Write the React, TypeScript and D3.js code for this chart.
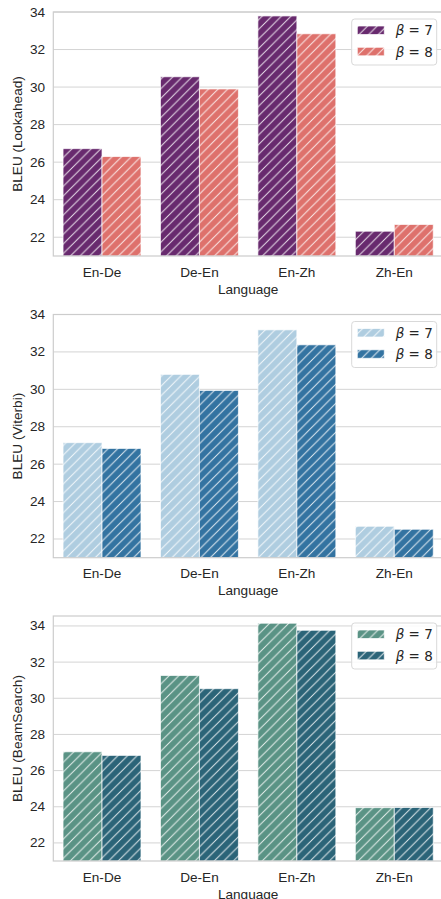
import React from "react";
import * as d3 from "d3";

const categories = ["En-De", "De-En", "En-Zh", "Zh-En"];
const seriesNames = ["7", "8"];

const lookahead7 = [26.72, 30.55, 33.79, 22.32];
const lookahead8 = [26.3, 29.9, 32.84, 22.68];
const viterbi7 = [27.15, 30.8, 33.18, 22.68];
const viterbi8 = [26.84, 29.94, 32.38, 22.52];
const beam7 = [27.04, 31.26, 34.15, 23.95];
const beam8 = [26.84, 30.53, 33.76, 23.96];

const yTicks = [22, 24, 26, 28, 30, 32, 34];

const panels = [
  { id: "p1", label: "BLEU (Lookahead)", top: 12, bottom: 256, yMin: 21, yMax: 34, series: [lookahead7, lookahead8], colors: ["#682a6e", "#de716c"] },
  { id: "p2", label: "BLEU (Viterbi)", top: 314.5, bottom: 557.7, yMin: 21, yMax: 34, series: [viterbi7, viterbi8], colors: ["#afcde0", "#3373a1"] },
  { id: "p3", label: "BLEU (BeamSearch)", top: 616, bottom: 861, yMin: 21, yMax: 34.55, series: [beam7, beam8], colors: ["#5a9385", "#2b6478"] },
];

const LEFT = 53.3;
const RIGHT = 443;
const FONT = "'Liberation Sans', Arial, sans-serif";
const FS = 13.6;
const TEXT = "#262626";
const GRID = "#d4d4d4";
const H = 9.6;

function Panel({ p }: { p: (typeof panels)[number] }) {
  const x = d3.scaleBand<string>().domain(categories).range([LEFT, RIGHT]).paddingInner(0.2).paddingOuter(0.1);
  const xi = d3.scaleBand<string>().domain(seriesNames).range([0, x.bandwidth()]);
  const y = d3.scaleLinear().domain([p.yMin, p.yMax]).range([p.bottom, p.top]);
  const lx = 351.7;
  const ly = p.top + 7;
  return (
    <g>
      <defs>
        {p.colors.map((c, i) => (
          <pattern key={i} id={`${p.id}-h${i}`} patternUnits="userSpaceOnUse" width={H} height={H}>
            <rect width={H} height={H} fill={c} />
            <path d={`M0,${H} L${H},0 M${-H / 2},${H / 2} L${H / 2},${-H / 2} M${H / 2},${H * 1.5} L${H * 1.5},${H / 2}`} stroke="#ffffff" strokeOpacity={0.85} strokeWidth={1} />
          </pattern>
        ))}
      </defs>
      {yTicks.filter((t) => t <= p.yMax).map((t) => (
        <g key={t}>
          <line x1={LEFT} x2={RIGHT} y1={y(t)} y2={y(t)} stroke={GRID} strokeWidth={1} />
          <text x={45} y={y(t)} textAnchor="end" dominantBaseline="central" fontSize={FS} fill={TEXT} fontFamily={FONT}>{t}</text>
        </g>
      ))}
      {categories.map((c, ci) =>
        p.series.map((vals, si) => (
          <rect
            key={`${c}-${si}`}
            x={(x(c) ?? 0) + (xi(seriesNames[si]) ?? 0)}
            y={y(vals[ci])}
            width={xi.bandwidth()}
            height={p.bottom - y(vals[ci])}
            fill={`url(#${p.id}-h${si})`}
            stroke="#ffffff"
            strokeOpacity={0.7}
            strokeWidth={1}
          />
        ))
      )}
      <rect x={LEFT} y={p.top} width={RIGHT - LEFT} height={p.bottom - p.top} fill="none" stroke="#cccccc" strokeWidth={1.2} />
      {categories.map((c) => (
        <text key={c} x={(x(c) ?? 0) + x.bandwidth() / 2} y={p.bottom + 16} textAnchor="middle" dominantBaseline="central" fontSize={FS} fill={TEXT} fontFamily={FONT}>{c}</text>
      ))}
      <text x={(LEFT + RIGHT) / 2} y={p.bottom + 33} textAnchor="middle" dominantBaseline="central" fontSize={FS} fill={TEXT} fontFamily={FONT}>Language</text>
      <text transform={`translate(17,${(p.top + p.bottom) / 2}) rotate(-90)`} textAnchor="middle" dominantBaseline="central" fontSize={FS} fill={TEXT} fontFamily={FONT}>{p.label}</text>
      <g>
        <rect x={lx} y={ly} width={85} height={46} rx={3} fill="#ffffff" fillOpacity={0.85} stroke="#d9d9d9" strokeWidth={1} />
        {seriesNames.map((s, si) => (
          <g key={s}>
            <rect x={lx + 5.6} y={ly + 7 + si * 21.3} width={27} height={8.5} fill={`url(#${p.id}-h${si})`} stroke="#ffffff" strokeOpacity={0.7} strokeWidth={1} />
            <text x={lx + 44} y={ly + 11.3 + si * 21.3} dominantBaseline="central" fontSize={13.5} fill={TEXT} fontFamily="'DejaVu Sans', sans-serif">
              <tspan fontStyle="italic">β</tspan>
              <tspan> = {s}</tspan>
            </text>
          </g>
        ))}
      </g>
    </g>
  );
}

export default function App() {
  return (
    <svg width={441} height={899} style={{ position: "absolute", left: 0, top: 0, background: "#ffffff" }}>
      <rect width={441} height={899} fill="#ffffff" />
      {panels.map((p) => (
        <Panel key={p.id} p={p} />
      ))}
    </svg>
  );
}
